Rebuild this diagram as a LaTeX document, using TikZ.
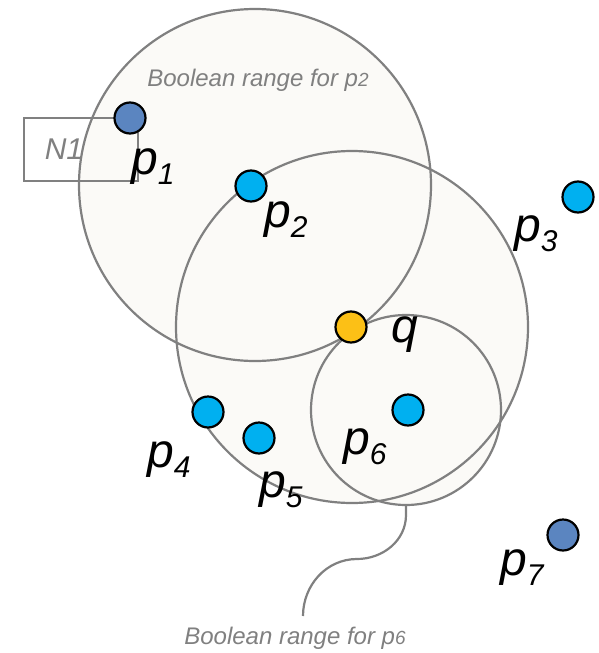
\documentclass[tikz,border=0pt]{standalone}
\usepackage{fontspec}
\setmainfont{Liberation Sans}
\begin{document}
\definecolor{rangefill}{RGB}{251,250,247}
\definecolor{rangeline}{RGB}{128,128,128}
\definecolor{ptcyan}{RGB}{0,176,240}
\definecolor{ptblue}{RGB}{91,133,192}
\definecolor{ptyellow}{RGB}{252,192,22}
\newcommand{\subdigit}[1]{\raisebox{-10pt}{\fontsize{30}{30}\selectfont #1}}
\begin{tikzpicture}[x=1pt,y=-1pt,
  rangering/.style={draw=rangeline,line width=2.2pt},
  pt/.style={circle,draw=black,line width=2.2pt,minimum size=31pt,inner sep=0pt},
  ptlabel/.style={anchor=base west,inner sep=0pt,font=\fontsize{48}{48}\selectfont\itshape},
  note/.style={inner sep=0pt,text=rangeline,font=\fontsize{24}{24}\selectfont\itshape},
  link/.style={draw=rangeline,line width=2.2pt}]
\useasboundingbox (0,0) rectangle (598,653);

% centres of the three boolean ranges
\coordinate (c2) at (255,185);
\coordinate (cq) at (352,327);
\coordinate (c6) at (406,410);

% range discs: fills first, outlines on top
\fill[rangefill] (c2) circle (176);
\fill[rangefill] (cq) circle (176);
\fill[rangefill] (c6) circle (95);
\draw[rangering] (c2) circle (176);
\draw[rangering] (cq) circle (176);
\draw[rangering] (c6) circle (95);

% node N1
\node[draw=rangeline,line width=2pt,minimum width=114pt,minimum height=63pt,inner sep=0pt,
      anchor=north west] (n1) at (23,117) {};
\node[note,font=\fontsize{30}{30}\selectfont\itshape] (n1t) at (64,149) {N1};

% points
\node[pt,fill=ptblue]   (p1) at (130,118) {};
\node[pt,fill=ptcyan]   (p2) at (251,186) {};
\node[pt,fill=ptcyan]   (p3) at (578,197) {};
\node[pt,fill=ptyellow] (q)  at (351,327) {};
\node[pt,fill=ptcyan]   (p4) at (208,412) {};
\node[pt,fill=ptcyan]   (p5) at (259,438) {};
\node[pt,fill=ptcyan]   (p6) at (408,410) {};
\node[pt,fill=ptblue]   (p7) at (563,535) {};

% point labels
\node[ptlabel] (l1) at (131,174) {p\subdigit{1}};
\node[ptlabel] (l2) at (264,227) {p\subdigit{2}};
\node[ptlabel] (l3) at (514,241) {p\subdigit{3}};
\node[ptlabel] (lq) at (391,342) {q};
\node[ptlabel] (l4) at (147,467) {p\subdigit{4}};
\node[ptlabel] (l5) at (259,497) {p\subdigit{5}};
\node[ptlabel] (l6) at (343,454) {p\subdigit{6}};
\node[ptlabel] (l7) at (500,575) {p\subdigit{7}};

% range captions
\node[note] (t2) at (258,80) {Boolean range for p{\fontsize{19}{19}\selectfont 2}};
\node[note] (t6) at (295,638) {Boolean range for p{\fontsize{19}{19}\selectfont 6}};

% leader from the p6 range to its caption
\coordinate (b6) at (406,505);
\coordinate (e6) at (303,616);
\draw[link] (b6) -- ++(0,10) to[out=-90,in=0] (357,559) to[out=180,in=90] (e6);
\end{tikzpicture}
\end{document}
